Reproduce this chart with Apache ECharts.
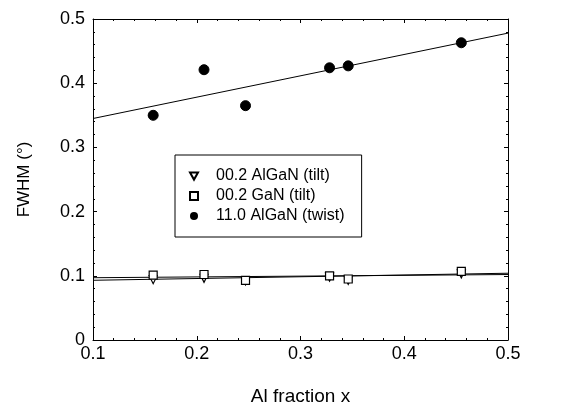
<!DOCTYPE html>
<html>
<head>
<meta charset="utf-8">
<script src="https://cdn.jsdelivr.net/npm/echarts@6/dist/echarts.min.js"></script>
<style>html,body{margin:0;padding:0;background:#fff}#c{width:561px;height:411px}</style>
</head>
<body>
<div id="c"></div>
<script>
// Data
var alFraction = [0.158, 0.207, 0.247, 0.328, 0.346, 0.455];
var algaNTilt  = [0.094, 0.096, 0.092, 0.098, 0.093, 0.103];
var gaNTilt    = [0.101, 0.102, 0.093, 0.100, 0.095, 0.107];
var algaNTwist = [0.350, 0.421, 0.365, 0.424, 0.427, 0.463];
var fitX = [0.1, 0.5];
var fitAlGaNTilt = [0.093, 0.104];
var fitGaNTilt   = [0.097, 0.102];
var fitTwist     = [0.345, 0.478];
var xTicks = ['0.1', '0.2', '0.3', '0.4', '0.5'];
var yTicks = ['0', '0.1', '0.2', '0.3', '0.4', '0.5'];
var legendNames = ['00.2 AlGaN (tilt)', '00.2 GaN (tilt)', '11.0 AlGaN (twist)'];

function pairs(xs, ys) { return xs.map(function (x, i) { return [x, ys[i]]; }); }

var font = 'Liberation Sans, Arial, Helvetica, sans-serif';
var downTri = 'path://M0,0 L10,0 L5,9 Z';
var chart = echarts.init(document.getElementById('c'), null, { renderer: 'canvas' });

function axisBase(show) {
  return {
    axisLine: { show: true, onZero: false, lineStyle: { color: '#000', width: 1 } },
    axisTick: { show: true, inside: true, length: 4, lineStyle: { color: '#000' } },
    minorTick: { show: true, splitNumber: 5, length: 2, lineStyle: { color: '#000' } },
    splitLine: { show: false },
    axisLabel: { show: show }
  };
}

var option = {
  backgroundColor: '#fff',
  animation: false,
  grid: { left: 93, right: 53, top: 19, bottom: 68, containLabel: false },
  xAxis: [
    Object.assign(axisBase(true), {
      type: 'value', min: 0.1, max: 0.5, interval: 0.1, position: 'bottom',
      name: 'Al fraction x', nameLocation: 'middle', nameGap: 47,
      nameTextStyle: { fontFamily: font, fontSize: 19, color: '#000' },
      axisLabel: { show: true, fontFamily: font, fontSize: 18, color: '#000', margin: 5,
        formatter: function (v) { var i = Math.round((v - 0.1) * 10); return xTicks[i]; } }
    }),
    Object.assign(axisBase(false), { type: 'value', min: 0.1, max: 0.5, interval: 0.1, position: 'top' })
  ],
  yAxis: [
    Object.assign(axisBase(true), {
      type: 'value', min: 0, max: 0.5, interval: 0.1, position: 'left',
      name: 'FWHM (°)', nameLocation: 'middle', nameGap: 60, nameRotate: 90,
      nameTextStyle: { fontFamily: font, fontSize: 17, color: '#000' },
      axisLabel: { show: true, fontFamily: font, fontSize: 18, color: '#000', margin: 8,
        formatter: function (v) { return yTicks[Math.round(v * 10)]; } }
    }),
    Object.assign(axisBase(false), { type: 'value', min: 0, max: 0.5, interval: 0.1, position: 'right' })
  ],
  legend: {
    orient: 'vertical', left: 175, top: 155,
    data: [
      { name: legendNames[0], icon: downTri },
      { name: legendNames[1], icon: 'rect' },
      { name: legendNames[2], icon: 'circle' }
    ],
    backgroundColor: '#fff',
    borderColor: '#000', borderWidth: 1,
    padding: [12, 17, 12, 14],
    itemWidth: 8, itemHeight: 8, itemGap: 2,
    textStyle: { fontFamily: font, fontSize: 16, color: '#000', lineHeight: 18, padding: [0, 0, 0, 13] }
  },
  series: [
    { name: 'fit1', type: 'line', data: pairs(fitX, fitAlGaNTilt), symbol: 'none', lineStyle: { color: '#000', width: 1 }, z: 1 },
    { name: 'fit2', type: 'line', data: pairs(fitX, fitGaNTilt), symbol: 'none', lineStyle: { color: '#000', width: 1 }, z: 1 },
    { name: 'fit3', type: 'line', data: pairs(fitX, fitTwist), symbol: 'none', lineStyle: { color: '#000', width: 1 }, z: 1 },
    { name: legendNames[0], type: 'scatter', data: pairs(alFraction, algaNTilt), symbol: downTri, symbolSize: 8,
      itemStyle: { color: '#fff', borderColor: '#000', borderWidth: 1.2, opacity: 1 }, z: 3 },
    { name: legendNames[1], type: 'scatter', data: pairs(alFraction, gaNTilt), symbol: 'rect', symbolSize: 8,
      itemStyle: { color: '#fff', borderColor: '#000', borderWidth: 1.2, opacity: 1 }, z: 4 },
    { name: legendNames[2], type: 'scatter', data: pairs(alFraction, algaNTwist), symbol: 'circle', symbolSize: 10,
      itemStyle: { color: '#000', borderColor: '#000', opacity: 1 }, z: 4 }
  ]
};
chart.setOption(option);
</script>
</body>
</html>
